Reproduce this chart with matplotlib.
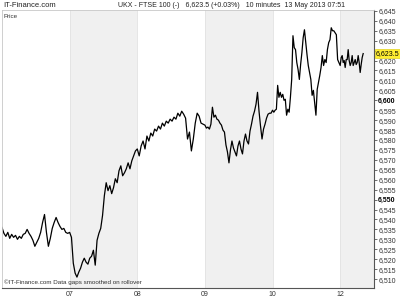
import numpy as np
import matplotlib
matplotlib.use("Agg")
import matplotlib.pyplot as plt
from matplotlib.ticker import FuncFormatter, MultipleLocator

plt.rcParams['font.family'] = ['Liberation Sans', 'DejaVu Sans']

# FTSE 100, 10 minute prices, one list per trading day
day0 = [6536.0, 6533.0, 6531.5, 6533.5, 6530.5, 6532.5, 6531.0, 6532.0, 6530.0, 6531.5,
        6530.5, 6532.5, 6533.0, 6535.0, 6533.0, 6531.5, 6529.5, 6526.5, 6528.5, 6530.5,
        6533.5, 6538.5, 6542.5, 6533.5, 6526.5, 6530.5, 6535.5, 6538.5, 6541.0, 6538.5,
        6536.5, 6535.0, 6535.5, 6533.5, 6533.0]
day1 = [6533.5, 6531.0, 6518.0, 6513.0, 6511.0, 6513.5, 6515.5, 6518.5, 6520.5, 6518.5,
        6517.5, 6520.5, 6521.5, 6524.5, 6517.0, 6529.5, 6533.0, 6535.5, 6542.0, 6552.0,
        6558.5, 6554.5, 6557.0, 6553.0, 6556.0, 6560.5, 6558.5, 6564.5, 6567.0, 6562.0,
        6563.5, 6565.5, 6568.5, 6565.5, 6569.5, 6572.0, 6574.5]
day2 = [6575.5, 6572.0, 6577.0, 6579.5, 6575.5, 6582.0, 6579.5, 6583.5, 6582.0, 6585.5,
        6584.5, 6587.0, 6585.5, 6588.5, 6587.0, 6589.5, 6588.5, 6590.5, 6589.5, 6591.5,
        6590.5, 6593.5, 6592.0, 6594.5, 6593.0, 6591.0, 6580.5, 6584.0, 6574.5, 6580.5,
        6588.5, 6593.5, 6592.0, 6588.5, 6588.0]
day3 = [6587.5, 6586.0, 6586.5, 6585.5, 6588.0, 6596.5, 6591.5, 6592.5, 6590.5, 6590.0,
        6588.5, 6587.5, 6585.0, 6584.0, 6577.5, 6574.0, 6568.5, 6575.0, 6579.5, 6576.0,
        6574.0, 6572.0, 6577.0, 6579.5, 6575.5, 6573.0, 6579.5, 6583.0, 6579.5, 6578.0,
        6584.5, 6588.0, 6592.0, 6594.5, 6598.0, 6604.0, 6594.5, 6587.0, 6580.5, 6585.5,
        6588.0, 6591.0, 6593.0, 6593.5, 6593.5]
day4 = [6595.0, 6594.0, 6595.0, 6595.5, 6607.5, 6601.5, 6604.0, 6601.5, 6603.0, 6600.0,
        6600.5, 6592.5, 6595.5, 6594.0, 6601.5, 6610.5, 6632.5, 6626.5, 6625.5, 6619.0,
        6615.5, 6610.5, 6618.0, 6624.0, 6631.5, 6635.5, 6629.0, 6623.0, 6617.5, 6614.0,
        6610.5, 6602.5, 6605.0, 6599.0, 6592.5, 6605.5, 6609.0, 6612.5, 6616.5, 6622.5,
        6617.5, 6620.5, 6619.0, 6625.5, 6629.0, 6630.5, 6636.5, 6635.0, 6635.0, 6634.0,
        6633.0, 6620.5, 6619.0]
day5 = [6617.5, 6621.5, 6622.5, 6619.0, 6620.0, 6616.5, 6620.5, 6620.5, 6625.5, 6620.0,
        6617.5, 6619.0, 6622.5, 6617.5, 6619.0, 6620.5, 6618.0, 6619.0, 6622.5, 6619.0,
        6614.0, 6618.0, 6621.5, 6623.5]

days = [day0, day1, day2, day3, day4, day5]
day_labels = ["07", "08", "09", "10", "12"]
last_price = 6623.5
last_day_part = 0.34

xs, ys = [], []
for i, d in enumerate(days):
    if i < len(days) - 1:
        x = np.linspace(i, i + 1, len(d), endpoint=False)
    else:
        x = np.linspace(i, i + last_day_part, len(d))
    xs.extend(x)
    ys.extend(d)

fig = plt.figure(figsize=(4, 3), dpi=100)
ax = fig.add_axes([0.005, 0.04, 0.93, 0.927])

for i in range(1, len(days), 2):
    ax.axvspan(i, i + 1, color='#f0f0f0', lw=0, zorder=0)
for i in range(1, len(days)):
    ax.axvline(i, color='#e2e2e2', lw=0.6, zorder=0.5)

ax.plot(xs, ys, color='black', lw=0.9, zorder=2)

ax.set_xlim(0, 5.5)
ax.set_ylim(6505.5, 6645.5)

ax.yaxis.tick_right()
ax.yaxis.set_major_locator(MultipleLocator(5))
# the 6,625 label sits under the last-price box
ax.yaxis.set_major_formatter(FuncFormatter(lambda v, p: "" if round(v) == 6625 else f"{v:,.0f}"))
ax.tick_params(axis='y', labelsize=5, length=2, width=0.5, pad=1, colors='#333333')
for lab in ax.get_yticklabels():
    if lab.get_text() in ("6,600", "6,550"):
        lab.set_fontweight('bold')
        lab.set_color('black')

ax.set_xticks(range(1, len(days)))
ax.set_xticklabels(day_labels)
ax.tick_params(axis='x', labelsize=5, length=0, pad=2, colors='#333333')

for s in ['top', 'left']:
    ax.spines[s].set_color('#c8c8c8')
    ax.spines[s].set_linewidth(0.6)
for s in ['right', 'bottom']:
    ax.spines[s].set_color('#555555')
    ax.spines[s].set_linewidth(0.8)

ax.text(0.005, 0.985, "Price", transform=ax.transAxes, fontsize=4.5, va='top', color='#333333')
ax.text(0.005, 0.012, "\u00a9IT-Finance.com Data gaps smoothed on rollover", transform=ax.transAxes,
        fontsize=4.5, va='bottom', color='#333333')

fig.text(0.008, 0.982, "IT-Finance.com", fontsize=5.5, va='center', color='#222222')
fig.text(0.58, 0.982, "UKX - FTSE 100 (-)   6,623.5 (+0.03%)   10 minutes  13 May 2013 07:51",
         fontsize=5, va='center', ha='center', color='#222222')

ax.annotate(f"{last_price:,.1f}", xy=(1.0, last_price), xycoords=('axes fraction', 'data'),
            xytext=(1.5, 0), textcoords='offset points', fontsize=5, va='center', ha='left',
            bbox=dict(boxstyle='square,pad=0.1', fc='#ffee33', ec='#d8c800', lw=0.4), zorder=5,
            annotation_clip=False)

fig.savefig("out.png", dpi=100)
